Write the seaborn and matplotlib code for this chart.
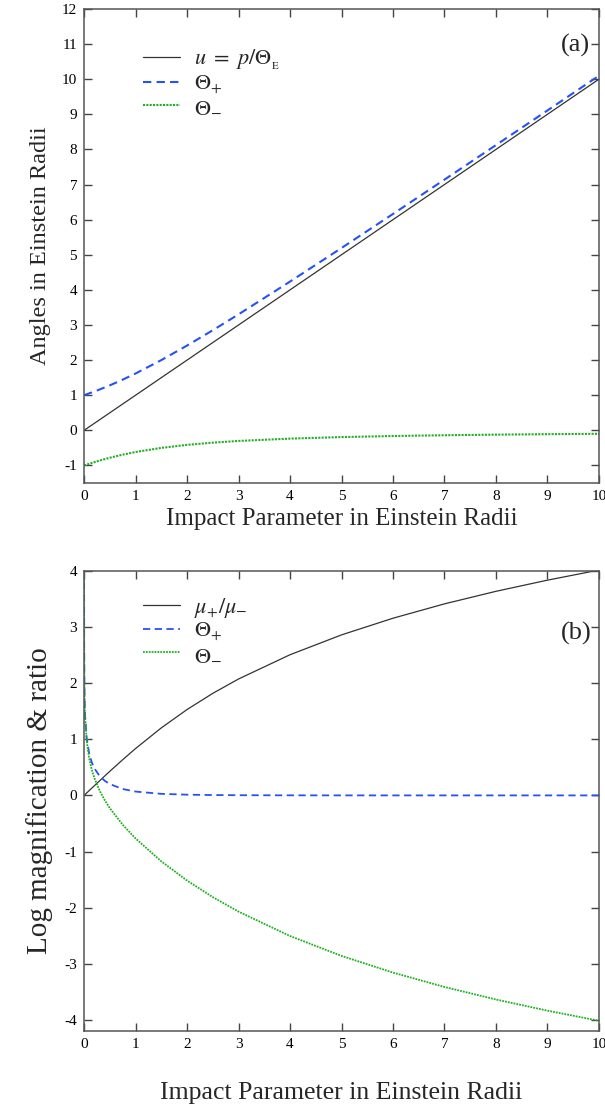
import numpy as np
import pandas as pd
import matplotlib
matplotlib.use("Agg")
import matplotlib.pyplot as plt
import seaborn as sns

# --- data ---
u_a = [0, 0.25, 0.5, 0.75, 1, 1.5, 2, 2.5, 3, 4, 5, 6, 7, 8, 9, 10]
theta_plus = [1.0, 1.1328, 1.2808, 1.4430, 1.6180, 2.0, 2.4142, 2.8508, 3.3028,
              4.2361, 5.1926, 6.1623, 7.1401, 8.1231, 9.1098, 10.099]
theta_minus = [-1.0, -0.8828, -0.7808, -0.6930, -0.6180, -0.5, -0.4142, -0.3508,
               -0.3028, -0.2361, -0.1926, -0.1623, -0.1401, -0.1231, -0.1098, -0.0990]

u_b = [0.00005, 0.001, 0.005, 0.01, 0.02, 0.05, 0.1, 0.15, 0.2, 0.3, 0.4, 0.5, 0.75,
       1, 1.5, 2, 2.5, 3, 4, 5, 6, 7, 8, 9, 10]
log_ratio = [0.0, 0.0009, 0.0044, 0.0087, 0.0174, 0.0434, 0.0868, 0.1301, 0.1734,
             0.2596, 0.3452, 0.4299, 0.6371, 0.8360, 1.2041, 1.5311, 1.8198, 2.0756,
             2.5079, 2.8615, 3.1589, 3.4147, 3.6384, 3.8373, 4.0172]
log_mu_plus = [4.0, 2.6994, 2.0022, 1.7033, 1.4066, 1.0216, 0.7418, 0.5867, 0.4825,
               0.3468, 0.2610, 0.2018, 0.1139, 0.0685, 0.0280, 0.0130, 0.0066, 0.0037,
               0.0014, 0.0006, 0.0003, 0.0002, 0.0001, 0.0001, 0.0]
log_mu_minus = [4.0, 2.6985, 1.9978, 1.6946, 1.3892, 0.9782, 0.6550, 0.4566, 0.3091,
                0.0872, -0.0842, -0.2281, -0.5232, -0.7675, -1.1761, -1.5181, -1.8132,
                -2.0719, -2.5065, -2.8609, -3.1586, -3.4145, -3.6383, -3.8372, -4.0172]

sns.set_style("ticks")
plt.rcParams['font.family'] = ['Liberation Serif', 'DejaVu Serif']
plt.rcParams['mathtext.fontset'] = 'stix'

BLACK = '#333333'
BLUE = '#2552f5'
GREEN = '#22b022'

fig = plt.figure(figsize=(6.05, 11.06), dpi=100)
ax1 = fig.add_axes([0.139, 0.5633, 0.851, 0.4286])
ax2 = fig.add_axes([0.139, 0.0678, 0.851, 0.4159])

# --- panel (a) ---
df_a = pd.DataFrame({'u': u_a, 'tp': theta_plus, 'tm': theta_minus})
sns.lineplot(x=u_a, y=u_a, ax=ax1, color=BLACK, lw=0.9,
             label=r'$u\ =\ p/\Theta_{_{\rm E}}$')
sns.lineplot(data=df_a, x='u', y='tp', ax=ax1, color=BLUE, lw=1.5,
             label=r'$\Theta_{+}$').lines[-1].set_dashes([4, 2.5])
sns.lineplot(data=df_a, x='u', y='tm', ax=ax1, color=GREEN, lw=1.5,
             label=r'$\Theta_{-}$').lines[-1].set_dashes([1, 0.6])
ax1.set_xlim(0, 10)
ax1.set_ylim(-1.5, 12)
ax1.set_yticks(range(-1, 13))
ax1.set_yticklabels([str(v) for v in range(-1, 13)])
ax1.set_xlabel('Impact Parameter in Einstein Radii', fontsize=18, labelpad=4)
ax1.set_ylabel('Angles in Einstein Radii', fontsize=17.5, labelpad=8)
ax1.text(9.55, 10.95, '(a)', fontsize=19, ha='center', va='center')
ax1.legend(loc='upper left', bbox_to_anchor=(0.075, 0.96), frameon=False,
           fontsize=16, handlelength=1.7, labelspacing=0.05, handletextpad=0.6)

# --- panel (b) ---
df_b = pd.DataFrame({'u': u_b, 'r': log_ratio, 'mp': log_mu_plus, 'mm': log_mu_minus})
sns.lineplot(data=df_b, x='u', y='r', ax=ax2, color=BLACK, lw=0.9,
             label=r'$\mu_{+}/\mu_{-}$')
sns.lineplot(data=df_b, x='u', y='mp', ax=ax2, color=BLUE, lw=1.3,
             label=r'$\Theta_{+}$').lines[-1].set_dashes([4, 2.5])
sns.lineplot(data=df_b, x='u', y='mm', ax=ax2, color=GREEN, lw=1.3,
             label=r'$\Theta_{-}$').lines[-1].set_dashes([1, 0.6])
ax2.set_xlim(0, 10)
ax2.set_ylim(-4.2, 4)
ax2.set_yticks(range(-4, 5))
ax2.set_yticklabels([str(v) for v in range(-4, 5)])
ax2.set_xlabel('Impact Parameter in Einstein Radii', fontsize=18.5, labelpad=22)
ax2.set_ylabel('Log magnification & ratio', fontsize=21, labelpad=8)
ax2.text(9.55, 2.88, '(b)', fontsize=19, ha='center', va='center')
ax2.legend(loc='upper left', bbox_to_anchor=(0.075, 0.99), frameon=False,
           fontsize=16, handlelength=1.7, labelspacing=0.05, handletextpad=0.6)

for ax in (ax1, ax2):
    ax.set_xticks(range(0, 11))
    ax.set_xticklabels([str(v) for v in range(0, 11)])
    ax.tick_params(direction='in', length=6, width=1, top=True, right=True,
                   labelsize=11, colors='#444444', labelcolor='black', pad=5)
    for s in ax.spines.values():
        s.set_color('#555555')
        s.set_linewidth(1.1)

fig.savefig('out.png', dpi=100)
